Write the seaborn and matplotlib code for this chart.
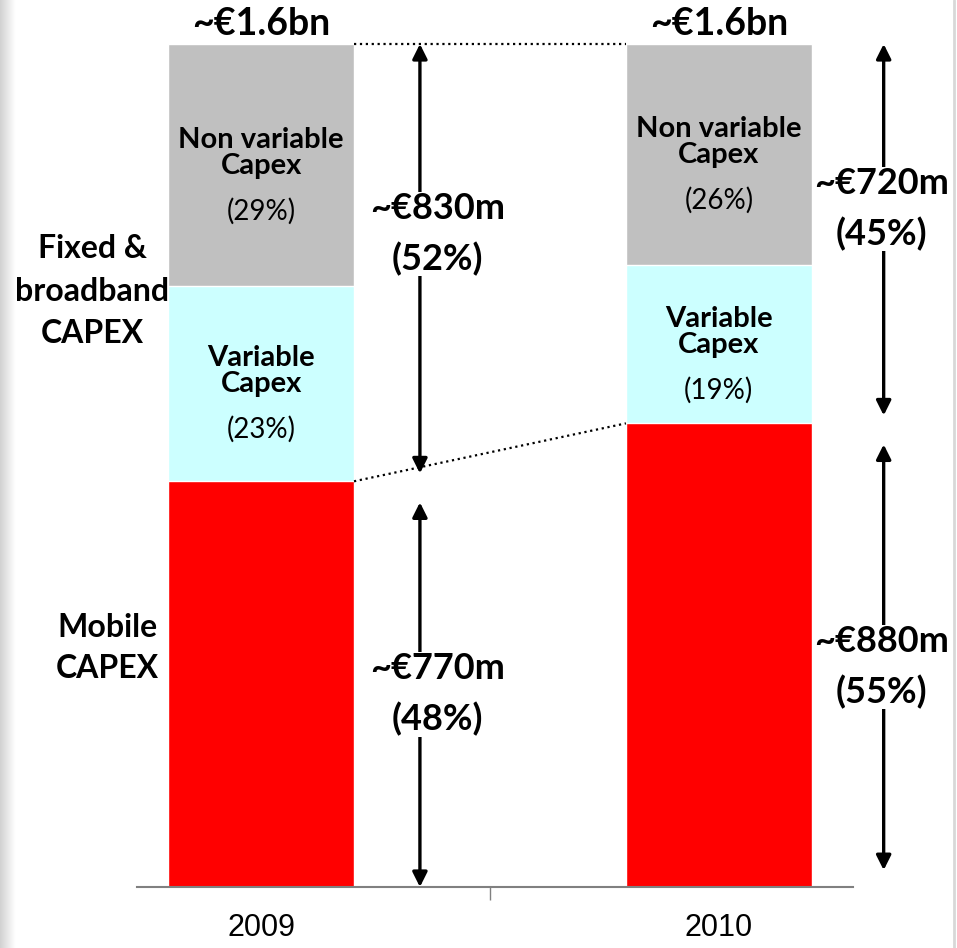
import seaborn as sns
import matplotlib.pyplot as plt
import numpy as np
import pandas as pd

years = ['2009', '2010']
mobile = [770, 880]
variable = [370, 300]
non_variable = [460, 420]
pct_mobile = [48, 55]
pct_variable = [23, 19]
pct_non_variable = [29, 26]
total_label = ['~€1.6bn', '~€1.6bn']
fixed_label = ['~€830m', '~€720m']
mobile_label = ['~€770m', '~€880m']
pct_fixed = [52, 45]

col_mobile = '#FF0000'
col_var = '#CCFFFF'
col_nonvar = '#C0C0C0'

sns.set_theme(style='white')
plt.rcParams['font.family'] = ['Lato', 'DejaVu Sans']
plt.rcParams['text.color'] = 'black'
plt.rcParams['xtick.color'] = 'black'

mobile = np.array(mobile)
variable = np.array(variable)
non_variable = np.array(non_variable)
lvl2 = mobile + variable
total = lvl2 + non_variable
df = pd.DataFrame({'year': years, 'mobile': mobile, 'lvl2': lvl2, 'total': total})

fig = plt.figure(figsize=(9.57, 9.48), dpi=100)
ax = fig.add_axes([137/957, 61/948, 716/957, 887/948])
w = 0.406
# stacked by overlaying cumulative bars
sns.barplot(data=df, x='year', y='total', color=col_nonvar, saturation=1, width=w, ax=ax)
sns.barplot(data=df, x='year', y='lvl2', color=col_var, saturation=1, width=w, ax=ax)
sns.barplot(data=df, x='year', y='mobile', color=col_mobile, saturation=1, width=w, ax=ax)

ax.set_xlim(-0.271, 1.293)
ax.set_ylim(0, total.max() * 887 / 843)
ax.set_xlabel('')
ax.set_ylabel('')
ax.set_yticks([])
for s in ['left', 'right', 'top']:
    ax.spines[s].set_visible(False)
ax.spines['bottom'].set_color('#808080')
ax.spines['bottom'].set_linewidth(1.5)
ax.set_xticks([0, 1])
ax.set_xticklabels(years, fontfamily='Liberation Sans', fontsize=22)
ax.tick_params(axis='x', which='major', length=0, pad=19)
ax.set_xticks([0.5], minor=True)
ax.tick_params(axis='x', which='minor', length=9, width=1, color='#808080', direction='out', bottom=True)
ax.patch.set_alpha(0)

# dotted connectors
ax.plot([w/2, 1 - w/2], [total[0], total[1]], ls=':', color='black', lw=1.6)
ax.plot([w/2, 1 - w/2], [mobile[0], mobile[1]], ls=':', color='black', lw=1.6)

arrow_x = [0.347, 1.36]
text_x = [0.385, 1.355]
big = 26
for i in range(2):
    x = i
    # total on top
    ax.annotate(total_label[i], (x, total[i]), xytext=(0, 2), textcoords='offset points',
                ha='center', va='bottom', fontsize=big + 1, fontweight='bold')
    # in-bar labels
    c_nv = lvl2[i] + non_variable[i] / 2
    c_v = mobile[i] + variable[i] / 2
    for c, name, p in [(c_nv, 'Non variable\nCapex', pct_non_variable[i]), (c_v, 'Variable\nCapex', pct_variable[i])]:
        ax.annotate(name, (x, c), xytext=(0, 9), textcoords='offset points', ha='center',
                    va='center', fontsize=21, fontweight='bold', linespacing=1.0)
        ax.annotate('(%d%%)' % p, (x, c), xytext=(0, -33), textcoords='offset points',
                    ha='center', va='center', fontsize=20)
    # arrows
    ax_ = arrow_x[i]
    ap = dict(arrowstyle='<|-|>', color='black', lw=2.4, mutation_scale=22, shrinkA=0, shrinkB=0)
    ax.annotate('', xy=(ax_, total[i]), xytext=(ax_, mobile[i] + 15), arrowprops=ap, annotation_clip=False)
    ax.annotate('', xy=(ax_, mobile[i] - 40), xytext=(ax_, 0 if i == 0 else 32), arrowprops=ap, annotation_clip=False)
    yf = mobile[i] + (total[i] - mobile[i]) * 0.565
    ax.text(text_x[i], yf, '%s\n(%d%%)' % (fixed_label[i], pct_fixed[i]), ha='center', va='center',
            fontsize=big, fontweight='bold', linespacing=1.6, clip_on=False,
            bbox=dict(facecolor='white', edgecolor='none', pad=0))
    ym = mobile[i] * 0.475
    ax.text(text_x[i], ym, '%s\n(%d%%)' % (mobile_label[i], pct_mobile[i]), ha='center', va='center',
            fontsize=big, fontweight='bold', linespacing=1.6, clip_on=False,
            bbox=dict(facecolor='white', edgecolor='none', pad=0))

# row labels on the left
ax.text(-0.369, mobile[0] + (total[0] - mobile[0]) * 0.435, 'Fixed &\nbroadband\nCAPEX', ha='center',
        va='center', fontsize=23, fontweight='bold', linespacing=1.55, clip_on=False)
ax.text(-0.335, mobile[0] * 0.59, 'Mobile\nCAPEX', ha='center', va='center', fontsize=23,
        fontweight='bold', linespacing=1.5, clip_on=False)

# slide frame edges
grad = fig.add_axes([0, 0, 16/957, 1])
grad.imshow(np.linspace(0.82, 1, 32).reshape(1, -1), cmap='gray', vmin=0, vmax=1, aspect='auto')
grad.axis('off')
fig.add_artist(plt.Line2D([954/957, 954/957], [0, 1], color='#D8D8D8', lw=2))

fig.savefig('out.png', dpi=100)
